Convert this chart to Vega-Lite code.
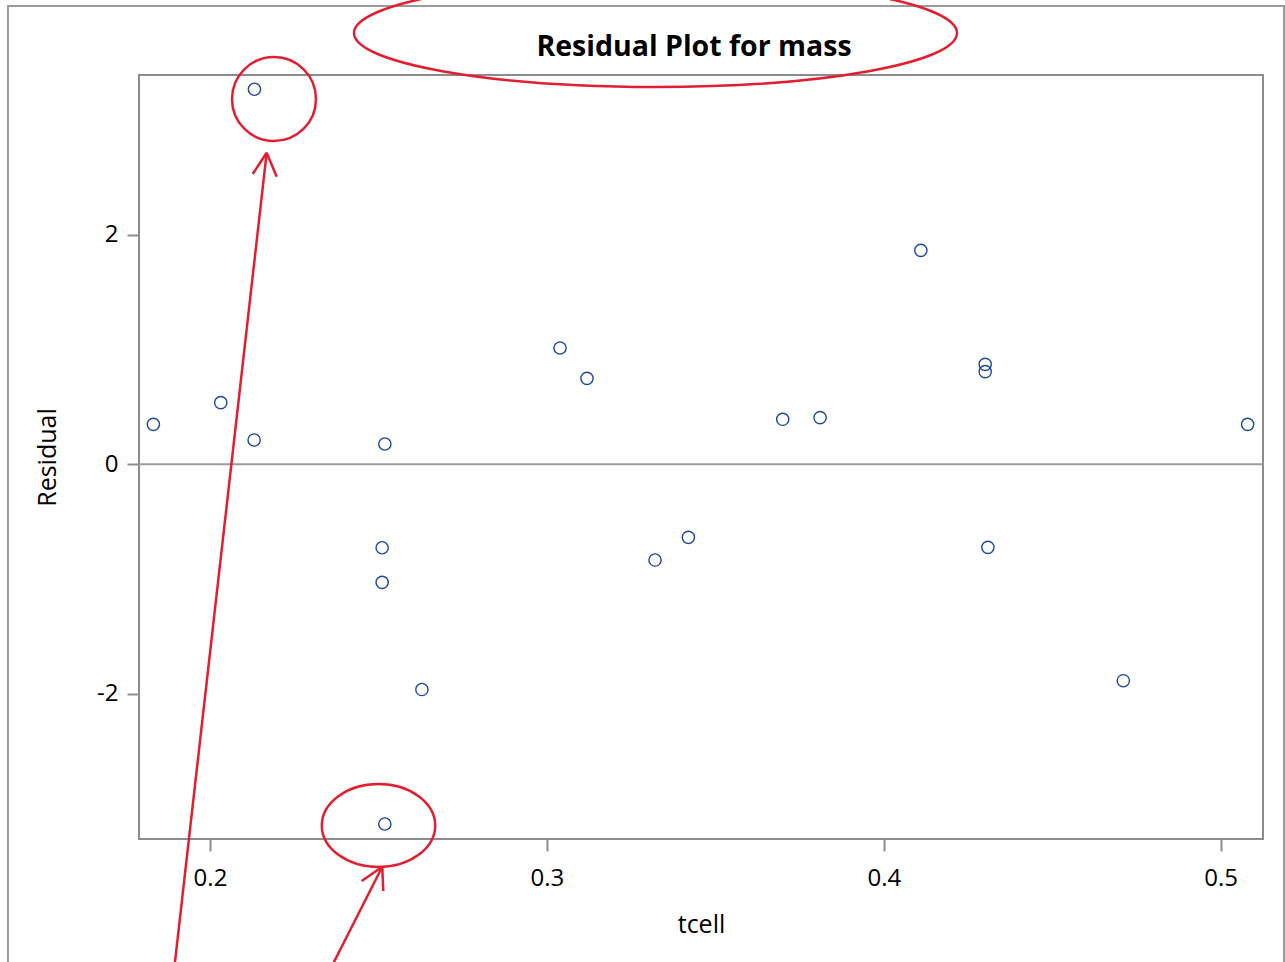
{
  "$schema": "https://vega.github.io/schema/vega-lite/v6.json",
  "width": 1124,
  "height": 764,
  "autosize": {"type": "none"},
  "padding": {"left": 139, "top": 75, "right": 22, "bottom": 123},
  "background": "white",
  "config": {
    "font": "Open Sans",
    "view": {"stroke": "#8c8c8c", "strokeWidth": 2},
    "axis": {
      "grid": false,
      "domain": false,
      "tickColor": "#8c8c8c",
      "tickWidth": 2,
      "tickSize": 12,
      "labelFont": "Open Sans",
      "labelFontSize": 24,
      "labelColor": "black",
      "titleFont": "Open Sans",
      "titleFontSize": 25,
      "titleFontWeight": "normal",
      "titleColor": "black"
    }
  },
  "title": {
    "text": "Residual Plot for mass",
    "font": "Open Sans",
    "fontWeight": "bold",
    "fontSize": 28.5,
    "color": "black",
    "anchor": "middle",
    "frame": "group",
    "baseline": "alphabetic",
    "offset": -111,
    "dx": -7
  },
  "datasets": {
    "residuals": [
      {"tcell": 0.1832, "residual": 0.348},
      {"tcell": 0.2032, "residual": 0.537},
      {"tcell": 0.2132, "residual": 3.267},
      {"tcell": 0.2131, "residual": 0.212},
      {"tcell": 0.2519, "residual": 0.177},
      {"tcell": 0.2511, "residual": -0.727},
      {"tcell": 0.2511, "residual": -1.028},
      {"tcell": 0.2629, "residual": -1.962},
      {"tcell": 0.2519, "residual": -3.133},
      {"tcell": 0.3039, "residual": 1.013},
      {"tcell": 0.3119, "residual": 0.749},
      {"tcell": 0.3321, "residual": -0.834},
      {"tcell": 0.342, "residual": -0.636},
      {"tcell": 0.37, "residual": 0.392},
      {"tcell": 0.3811, "residual": 0.406},
      {"tcell": 0.411, "residual": 1.864},
      {"tcell": 0.4301, "residual": 0.871},
      {"tcell": 0.4301, "residual": 0.807},
      {"tcell": 0.4309, "residual": -0.723},
      {"tcell": 0.4711, "residual": -1.885},
      {"tcell": 0.508, "residual": 0.348}
    ],
    "arrows": [
      {"ax": 0.21683, "ay": 2.7143, "ax2": 0.18833, "ay2": -4.6664},
      {"ax": 0.21683, "ay": 2.7143, "ax2": 0.21267, "ay2": 2.5287},
      {"ax": 0.21683, "ay": 2.7143, "ax2": 0.2198, "ay2": 2.5052},
      {"ax": 0.25114, "ay": -3.5052, "ax2": 0.23108, "ay2": -4.6664},
      {"ax": 0.25114, "ay": -3.5052, "ax2": 0.24503, "ay2": -3.6298},
      {"ax": 0.25114, "ay": -3.5052, "ax2": 0.25144, "ay2": -3.7169}
    ],
    "frame": [
      {"ax": 0.14004, "ay": 3.9922, "ax2": 0.51879, "ay2": -5}
    ],
    "zero": [
      {"residual": 0}
    ]
  },
  "layer": [
    {
      "data": {"name": "residuals"},
      "mark": {"type": "point", "shape": "circle", "filled": false, "size": 150, "strokeWidth": 1.4, "color": "#1f46a8", "opacity": 1},
      "encoding": {
        "x": {
          "field": "tcell", "type": "quantitative",
          "scale": {"domain": [0.17893, 0.51256], "nice": false, "zero": false},
          "axis": {"title": "tcell", "values": [0.2, 0.3, 0.4, 0.5], "labelExpr": "'' + datum.value", "labelPadding": 15, "titlePadding": 22}
        },
        "y": {
          "field": "residual", "type": "quantitative",
          "scale": {"domain": [-3.2639, 3.3911], "nice": false, "zero": false},
          "axis": {"title": "Residual", "values": [-2, 0, 2], "labelExpr": "'' + datum.value", "labelPadding": 9, "titlePadding": 36}
        }
      }
    },
    {
      "data": {"name": "zero"},
      "mark": {"type": "rule", "color": "#9c9c9c", "strokeWidth": 2},
      "encoding": {
        "y": {"field": "residual", "type": "quantitative", "scale": {"domain": [-3.2639, 3.3911], "nice": false, "zero": false}}
      }
    },
    {
      "data": {"name": "frame"},
      "mark": {"type": "rect", "fill": null, "filled": false, "stroke": "#9a9a9a", "strokeWidth": 2, "clip": false},
      "encoding": {
        "x": {"field": "ax", "type": "quantitative", "scale": {"domain": [0.17893, 0.51256], "nice": false, "zero": false}},
        "x2": {"field": "ax2"},
        "y": {"field": "ay", "type": "quantitative", "scale": {"domain": [-3.2639, 3.3911], "nice": false, "zero": false}},
        "y2": {"field": "ay2"}
      }
    },
    {
      "data": {"values": [{"ax": 0.219, "ay": 3.182}]},
      "mark": {"type": "point", "shape": "circle", "filled": false, "size": 7056, "strokeWidth": 2.5, "color": "#e31e30", "opacity": 1, "clip": false},
      "encoding": {
        "x": {"field": "ax", "type": "quantitative", "scale": {"domain": [0.17893, 0.51256], "nice": false, "zero": false}},
        "y": {"field": "ay", "type": "quantitative", "scale": {"domain": [-3.2639, 3.3911], "nice": false, "zero": false}}
      }
    },
    {
      "data": {"values": [{"ax": 0.25002, "ay": -3.1463}]},
      "mark": {"type": "point", "shape": "M -1 0 C -1 -0.4043 -0.5523 -0.732 0 -0.732 C 0.5523 -0.732 1 -0.4043 1 0 C 1 0.4043 0.5523 0.732 0 0.732 C -0.5523 0.732 -1 0.4043 -1 0 Z", "filled": false, "size": 12860, "strokeWidth": 2.5, "color": "#e31e30", "opacity": 1, "clip": false},
      "encoding": {
        "x": {"field": "ax", "type": "quantitative", "scale": {"domain": [0.17893, 0.51256], "nice": false, "zero": false}},
        "y": {"field": "ay", "type": "quantitative", "scale": {"domain": [-3.2639, 3.3911], "nice": false, "zero": false}}
      }
    },
    {
      "data": {"values": [{"ax": 0.33224, "ay": 3.757}]},
      "mark": {"type": "point", "shape": "M -1 0 C -1 -0.0989 -0.5523 -0.1791 0 -0.1791 C 0.5523 -0.1791 1 -0.0989 1 0 C 1 0.0989 0.5523 0.1791 0 0.1791 C -0.5523 0.1791 -1 0.0989 -1 0 Z", "filled": false, "size": 363609, "strokeWidth": 2.5, "color": "#e31e30", "opacity": 1, "clip": false},
      "encoding": {
        "x": {"field": "ax", "type": "quantitative", "scale": {"domain": [0.17893, 0.51256], "nice": false, "zero": false}},
        "y": {"field": "ay", "type": "quantitative", "scale": {"domain": [-3.2639, 3.3911], "nice": false, "zero": false}}
      }
    },
    {
      "data": {"name": "arrows"},
      "mark": {"type": "rule", "color": "#e31e30", "strokeWidth": 2.5, "clip": false},
      "encoding": {
        "x": {"field": "ax", "type": "quantitative", "scale": {"domain": [0.17893, 0.51256], "nice": false, "zero": false}},
        "x2": {"field": "ax2"},
        "y": {"field": "ay", "type": "quantitative", "scale": {"domain": [-3.2639, 3.3911], "nice": false, "zero": false}},
        "y2": {"field": "ay2"}
      }
    }
  ]
}
